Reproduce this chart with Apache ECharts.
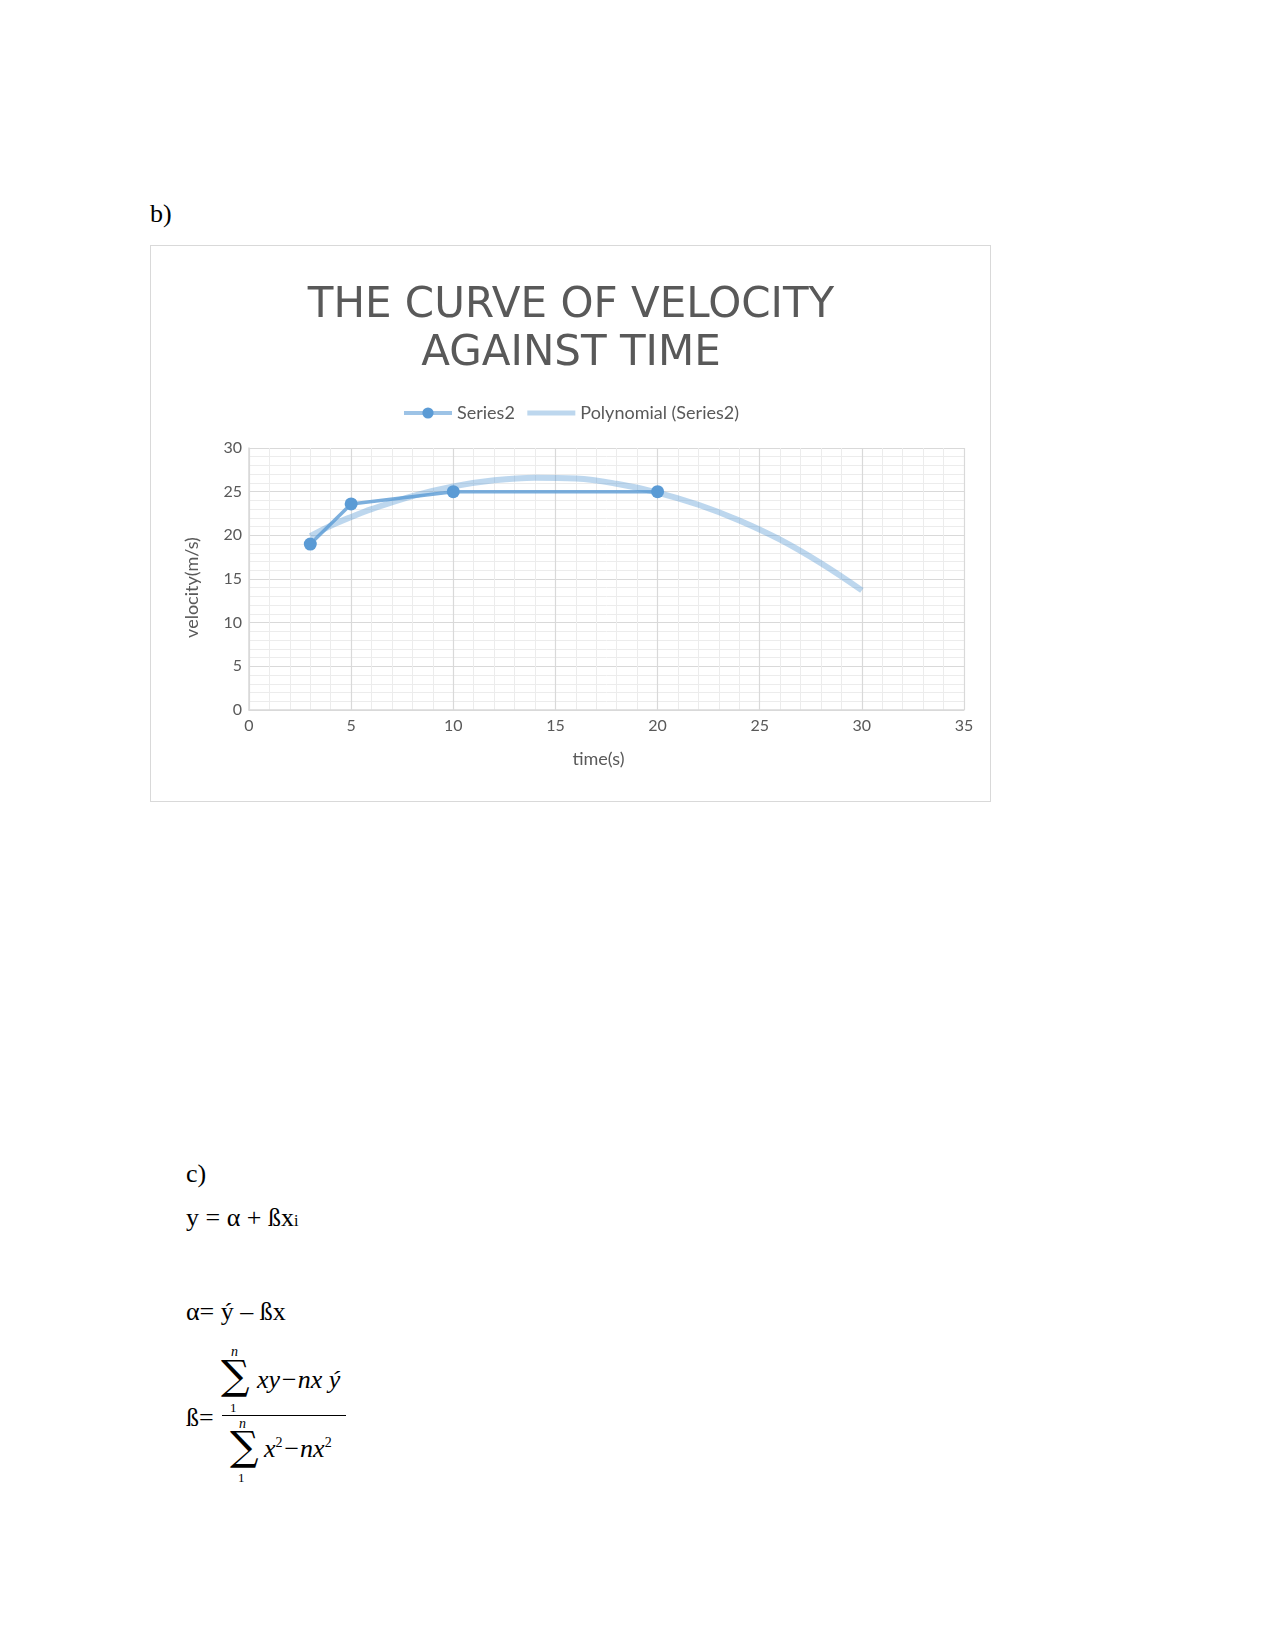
<!DOCTYPE html>
<html>
<head>
<meta charset="utf-8">
<script src="https://cdn.jsdelivr.net/npm/echarts@6/dist/echarts.min.js"></script>
<style>
  html, body { margin:0; padding:0; background:#fff; width:1275px; height:1650px; position:relative; overflow:hidden; }
  .t { position:absolute; font-family:"Liberation Serif", serif; color:#000; white-space:nowrap; line-height:1; }
  .m { font-style:italic; }
  .sig { position:absolute; font-family:'DejaVu Serif', serif; font-size:40px; line-height:1; color:#000; }
  #chart { position:absolute; left:150px; top:245px; width:839px; height:555px; border:1px solid #d9d9d9; }
</style>
</head>
<body>
<div class="t" style="left:150px; top:201px; font-size:26px;">b)</div>
<div id="chart"></div>

<div class="t" style="left:186px; top:1161px; font-size:26px;">c)</div>
<div class="t" style="left:186px; top:1205px; font-size:26px;">y = α + ßx<span style="font-size:16px;">i</span></div>
<div class="t" style="left:186px; top:1299px; font-size:26px;">α= ý – ßx</div>
<div class="t" style="left:186px; top:1405px; font-size:26px;">ß=</div>
<div style="position:absolute; left:222px; top:1415px; width:124px; height:0; border-top:1.5px solid #000;"></div>
<!-- numerator -->
<div class="t m" style="left:231px; top:1345px; font-size:14px;">n</div>
<div class="sig" style="left:221px; top:1355px;">∑</div>
<div class="t" style="left:230px; top:1401px; font-size:13px;">1</div>
<div class="t m" style="left:257px; top:1367px; font-size:26px;">xy−nx ý</div>
<!-- denominator -->
<div class="t m" style="left:239px; top:1417px; font-size:14px;">n</div>
<div class="sig" style="left:230px; top:1426px;">∑</div>
<div class="t" style="left:238px; top:1471px; font-size:13px;">1</div>
<div class="t m" style="left:264px; top:1436px; font-size:26px;">x<sup style="font-size:14px;font-style:normal;">2</sup>−nx<sup style="font-size:14px;font-style:normal;">2</sup></div>

<script>
// Data
var timeValues = [3, 5, 10, 20];
var velocityValues = [19, 23.6, 25, 25];
// Polynomial trendline points
var trendTime = [3, 4, 5, 6, 8, 10, 12, 14, 16, 18, 20, 22, 24, 26, 28, 30];
var trendVelocity = [19.9, 21.1, 22.1, 23.0, 24.5, 25.6, 26.3, 26.6, 26.5, 25.9, 24.9, 23.5, 21.7, 19.5, 16.8, 13.7];
var titleLines = ['THE CURVE OF VELOCITY', 'AGAINST TIME'];
var xAxisName = 'time(s)';
var yAxisName = 'velocity(m/s)';
var seriesNames = ['Series2', 'Polynomial (Series2)'];

function pairs(xs, ys) { return xs.map(function (x, i) { return [x, ys[i]]; }); }

var chart = echarts.init(document.getElementById('chart'), null, { renderer: 'canvas' });
var gridColor = '#d9d9d9';
var minorColor = '#ececec';
var textColor = '#595959';

chart.setOption({
  animation: false,
  title: {
    text: titleLines.join('\n'),
    left: 420,
    top: 36,
    padding: 0,
    textAlign: 'center',
    textStyle: { fontFamily: 'DejaVu Sans', fontSize: 42, fontWeight: 'normal', color: textColor, lineHeight: 48, align: 'center' }
  },
  legend: {
    data: [
      { name: seriesNames[0], lineStyle: { width: 4, color: 'rgba(91,155,213,0.6)' } },
      { name: seriesNames[1], itemStyle: { opacity: 0 }, lineStyle: { width: 5, color: 'rgba(91,155,213,0.4)' } }
    ],
    top: 153,
    left: 'center',
    itemWidth: 48,
    itemHeight: 14,
    itemGap: 10,
    textStyle: { fontFamily: 'Lato', fontSize: 18, color: textColor }
  },
  grid: { left: 98, top: 202, width: 715, height: 262, containLabel: false },
  xAxis: {
    type: 'value', min: 0, max: 35, interval: 5,
    name: xAxisName, nameLocation: 'middle', nameGap: 40,
    nameTextStyle: { fontFamily: 'Lato', fontSize: 18, color: textColor, padding: [0, 16, 0, 0] },
    axisLine: { show: true, lineStyle: { color: gridColor, width: 1.5 } },
    axisTick: { show: false },
    axisLabel: { fontFamily: 'Lato', fontSize: 16, color: textColor, margin: 8 },
    splitLine: { show: true, lineStyle: { color: gridColor, width: 1.2 } },
    minorTick: { show: false, splitNumber: 5 },
    minorSplitLine: { show: true, lineStyle: { color: minorColor, width: 1 } }
  },
  yAxis: {
    type: 'value', min: 0, max: 30, interval: 5,
    name: yAxisName, nameLocation: 'middle', nameGap: 48, nameRotate: 90,
    nameTextStyle: { fontFamily: 'Lato', fontSize: 18, color: textColor, padding: [0, 17, 0, 0] },
    axisLine: { show: true, lineStyle: { color: gridColor, width: 1.5 } },
    axisTick: { show: false },
    axisLabel: { fontFamily: 'Lato', fontSize: 16, color: textColor, margin: 7 },
    splitLine: { show: true, lineStyle: { color: gridColor, width: 1.2 } },
    minorTick: { show: false, splitNumber: 5 },
    minorSplitLine: { show: true, lineStyle: { color: minorColor, width: 1 } }
  },
  series: [
    {
      name: seriesNames[0],
      type: 'line',
      data: pairs(timeValues, velocityValues),
      symbol: 'circle',
      symbolSize: 13,
      itemStyle: { color: '#5b9bd5' },
      lineStyle: { color: 'rgba(91,155,213,0.8)', width: 3.5 },
      z: 3
    },
    {
      name: seriesNames[1],
      type: 'line',
      data: pairs(trendTime, trendVelocity),
      smooth: 0.4,
      showSymbol: false,
      symbol: 'none',
      itemStyle: { color: 'rgba(91,155,213,0.4)' },
      lineStyle: { color: 'rgba(91,155,213,0.4)', width: 6 },
      z: 4
    }
  ]
});
</script>
</body>
</html>
